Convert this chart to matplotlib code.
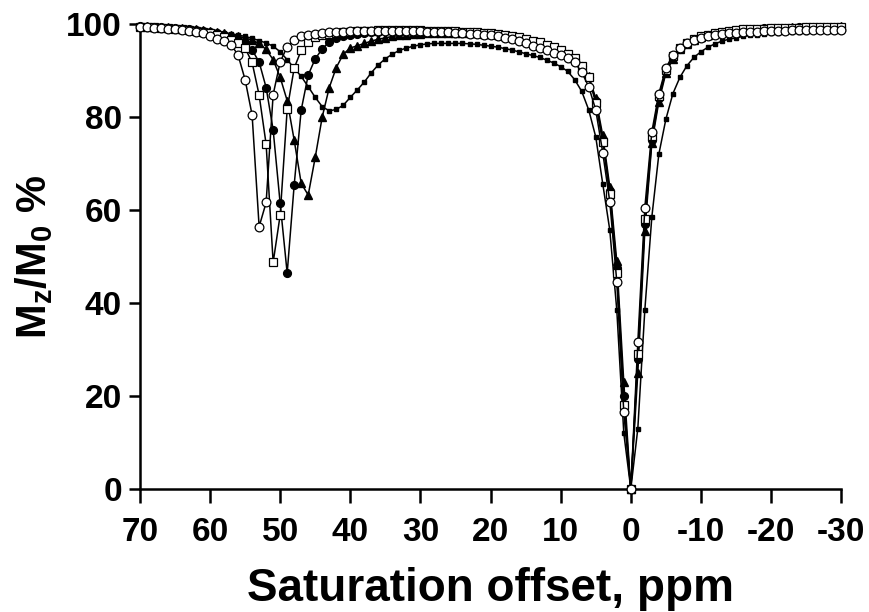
import numpy as np
import matplotlib
matplotlib.use('Agg')
import matplotlib.pyplot as plt

plt.rcParams['font.family'] = ['Liberation Sans', 'DejaVu Sans']
plt.rcParams['mathtext.fontset'] = 'custom'
plt.rcParams['mathtext.rm'] = 'Liberation Sans:bold'
plt.rcParams['mathtext.bf'] = 'Liberation Sans:bold'
plt.rcParams['axes.unicode_minus'] = False

# saturation offsets, ppm (70 down to -30, 1 ppm steps)
offset = np.arange(70, -31, -1)

# open circles
mz_a = [99.3, 99.3, 99.2, 99.1, 99.0, 98.9, 98.7, 98.5, 98.3, 98.0,
        97.4, 96.8, 96.3, 95.5, 93.3, 88.0, 80.4, 56.4, 61.6, 84.8,
        91.8, 95.1, 96.6, 97.3, 97.6, 97.9, 98.1, 98.2, 98.3, 98.3,
        98.4, 98.4, 98.5, 98.5, 98.5, 98.5, 98.5, 98.5, 98.4, 98.4,
        98.4, 98.3, 98.3, 98.2, 98.2, 98.1, 98.0, 97.9, 97.8, 97.7,
        97.5, 97.3, 97.0, 96.7, 96.3, 95.8, 95.3, 94.8, 94.4, 93.8,
        93.3, 92.6, 91.7, 89.6, 86.5, 81.5, 72.3, 61.8, 44.6, 16.5,
        0.0, 31.5, 60.5, 76.8, 85.0, 90.5, 93.3, 94.8, 95.8, 96.5,
        97.0, 97.3, 97.6, 97.8, 98.0, 98.1, 98.2, 98.3, 98.3, 98.4,
        98.5, 98.5, 98.5, 98.6, 98.6, 98.6, 98.6, 98.7, 98.7, 98.7,
        98.7]

# open squares
mz_b = [99.4, 99.4, 99.3, 99.2, 99.1, 99.0, 98.9, 98.7, 98.5, 98.3,
        98.0, 97.6, 97.1, 96.5, 95.8, 94.8, 91.7, 84.7, 74.1, 48.7,
        58.9, 81.6, 90.5, 94.3, 96.0, 97.1, 97.6, 97.9, 98.1, 98.2,
        98.3, 98.4, 98.5, 98.5, 98.6, 98.6, 98.6, 98.6, 98.6, 98.6,
        98.6, 98.5, 98.5, 98.5, 98.4, 98.4, 98.3, 98.3, 98.2, 98.1,
        98.0, 97.8, 97.6, 97.4, 97.1, 96.8, 96.4, 96.0, 95.5, 95.0,
        94.4, 93.6, 92.6, 91.0, 88.5, 83.0, 74.5, 63.5, 46.5, 18.0,
        0.0, 29.0, 58.0, 75.8, 84.5, 90.0, 93.0, 94.8, 95.9, 96.7,
        97.3, 97.7, 98.0, 98.3, 98.5, 98.6, 98.8, 98.9, 99.0, 99.0,
        99.1, 99.1, 99.2, 99.2, 99.2, 99.3, 99.3, 99.3, 99.3, 99.4,
        99.4]

# filled circles
mz_c = [99.5, 99.4, 99.4, 99.3, 99.2, 99.1, 99.0, 98.9, 98.7, 98.5,
        98.3, 98.0, 97.6, 97.2, 96.6, 95.8, 94.4, 91.8, 86.3, 77.2,
        61.4, 46.4, 65.4, 81.5, 89.0, 92.5, 94.6, 96.2, 96.9, 97.4,
        97.7, 97.9, 98.1, 98.2, 98.3, 98.4, 98.5, 98.5, 98.5, 98.5,
        98.5, 98.5, 98.5, 98.4, 98.4, 98.3, 98.3, 98.2, 98.1, 98.0,
        97.9, 97.7, 97.5, 97.3, 97.0, 96.7, 96.3, 95.9, 95.4, 94.9,
        94.3, 93.5, 92.5, 91.0, 88.6, 83.5, 75.0, 64.0, 47.5, 20.0,
        0.0, 28.0, 57.0, 75.0, 84.0, 89.8, 92.8, 94.7, 95.9, 96.7,
        97.3, 97.7, 98.0, 98.3, 98.5, 98.7, 98.8, 98.9, 99.0, 99.1,
        99.1, 99.2, 99.2, 99.2, 99.3, 99.3, 99.3, 99.4, 99.4, 99.4,
        99.4]

# filled triangles
mz_d = [99.5, 99.5, 99.4, 99.4, 99.3, 99.2, 99.1, 99.0, 98.9, 98.7,
        98.5, 98.3, 98.0, 97.7, 97.3, 97.0, 96.5, 95.8, 94.5, 92.3,
        88.5, 83.5, 75.0, 65.7, 63.2, 71.3, 80.0, 86.3, 90.6, 93.5,
        94.8, 95.3, 95.8, 96.3, 96.7, 97.0, 97.3, 97.5, 97.7, 97.8,
        97.9, 98.0, 98.1, 98.1, 98.1, 98.1, 98.1, 98.0, 98.0, 97.9,
        97.8, 97.6, 97.4, 97.2, 96.9, 96.6, 96.2, 95.8, 95.3, 94.8,
        94.2, 93.4, 92.5, 91.0, 88.8, 84.0, 76.0, 65.0, 49.0, 23.0,
        0.0, 25.0, 55.5, 74.4, 83.3, 89.4, 92.5, 94.5, 95.7, 96.6,
        97.2, 97.6, 98.0, 98.3, 98.5, 98.7, 98.8, 98.9, 99.0, 99.1,
        99.1, 99.2, 99.2, 99.3, 99.3, 99.3, 99.4, 99.4, 99.4, 99.4,
        99.5]

# small filled squares
mz_e = [99.3, 99.3, 99.2, 99.2, 99.1, 99.0, 98.9, 98.8, 98.7, 98.6,
        98.5, 98.3, 98.1, 97.9, 97.6, 97.3, 96.9, 96.4, 95.9, 95.2,
        94.0, 92.3, 90.5, 88.7, 86.5, 84.2, 82.2, 81.3, 81.6, 82.5,
        84.2, 85.8, 87.5, 89.5, 91.2, 92.5, 93.5, 94.3, 94.8, 95.2,
        95.5, 95.7, 95.8, 95.8, 95.8, 95.8, 95.8, 95.7, 95.6, 95.4,
        95.2, 95.0, 94.7, 94.4, 94.0, 93.6, 93.2, 92.8, 92.2, 91.6,
        90.8, 89.8, 88.0, 85.5, 81.5, 75.7, 65.6, 55.7, 38.5, 12.0,
        0.0, 13.0, 38.5, 58.5, 72.0, 79.5, 85.0, 88.5, 91.0, 92.8,
        94.0, 95.0, 95.7, 96.3, 96.7, 97.0, 97.3, 97.5, 97.7, 97.8,
        98.0, 98.1, 98.2, 98.2, 98.3, 98.3, 98.4, 98.4, 98.4, 98.5,
        98.5]

x_ticks = [70, 60, 50, 40, 30, 20, 10, 0, -10, -20, -30]
y_ticks = [0, 20, 40, 60, 80, 100]

fig = plt.figure(figsize=(8.69, 6.12), dpi=100)
ax = fig.add_axes([0.161, 0.201, 0.807, 0.760])

lw = 1.1
ax.plot(offset, mz_e, color='black', lw=lw, marker='s', ms=3.0,
        mfc='black', mec='black', clip_on=False, zorder=2)
ax.plot(offset, mz_d, color='black', lw=lw, marker='^', ms=6.0,
        mfc='black', mec='black', clip_on=False, zorder=3)
ax.plot(offset, mz_c, color='black', lw=lw, marker='o', ms=5.6,
        mfc='black', mec='black', clip_on=False, zorder=4)
ax.plot(offset, mz_b, color='black', lw=lw, marker='s', ms=5.2,
        mfc='white', mec='black', mew=0.9, clip_on=False, zorder=5)
ax.plot(offset, mz_a, color='black', lw=lw, marker='o', ms=6.3,
        mfc='white', mec='black', mew=0.9, clip_on=False, zorder=6)

ax.set_xlim(70, -30)
ax.set_ylim(0, 100)
ax.set_xticks(x_ticks)
ax.set_yticks(y_ticks)

for s in ['top', 'right']:
    ax.spines[s].set_visible(False)
for s in ['left', 'bottom']:
    ax.spines[s].set_linewidth(1.8)

ax.tick_params(direction='out', length=8, width=1.8, labelsize=24, pad=5)
for lab in ax.get_xticklabels() + ax.get_yticklabels():
    lab.set_fontweight('bold')
ax.tick_params(axis='x', length=10, pad=10)

ax.set_xlabel('Saturation offset, ppm', fontsize=33, fontweight='bold', labelpad=14)
ax.set_ylabel(r'M$_\mathrm{z}$/M$_\mathrm{0}$ %', fontsize=30, fontweight='bold', labelpad=8)

fig.savefig('out.png', dpi=100)
